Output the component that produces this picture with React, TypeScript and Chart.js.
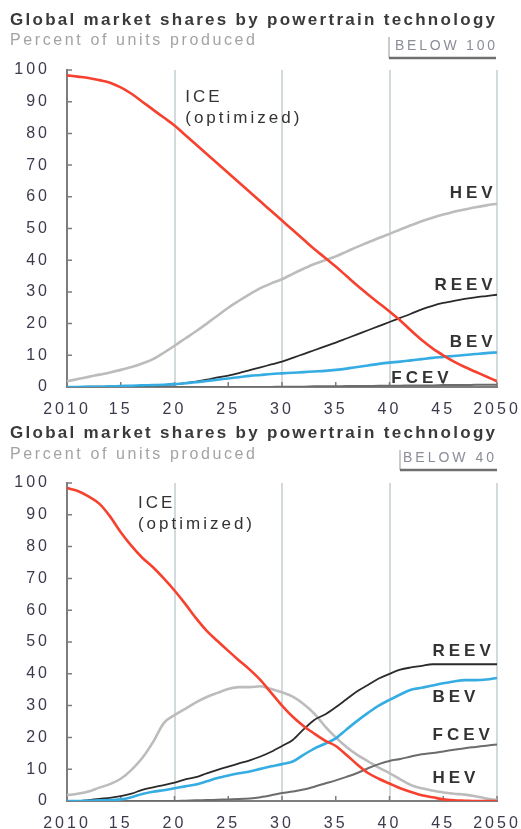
import { useEffect, useRef } from "react";
import { Chart, registerables } from "chart.js";

Chart.register(...registerables);

// ---------- data ----------
const YEARS = [
  2010, 2011, 2012, 2013, 2014, 2015, 2016, 2017, 2018, 2019,
  2020, 2021, 2022, 2023, 2024, 2025, 2026, 2027, 2028, 2029,
  2030, 2031, 2032, 2033, 2034, 2035, 2036, 2037, 2038, 2039,
  2040, 2041, 2042, 2043, 2044, 2045, 2046, 2047, 2048, 2049,
  2050,
];

// Scenario "BELOW 100"
const TOP_ICE = [
  98.3, 97.9, 97.5, 96.8, 96.0, 94.5, 92.5, 90.0, 87.5, 85.0,
  82.5, 79.5, 76.5, 73.5, 70.5, 67.5, 64.5, 61.5, 58.5, 55.5,
  52.5, 49.5, 46.5, 43.5, 40.8, 38.0, 35.0, 32.0, 29.2, 26.5,
  23.8, 21.0, 17.8, 14.8, 12.2, 10.0, 8.0, 6.3, 4.8, 3.3,
  1.8,
];
const TOP_HEV = [
  1.8, 2.5, 3.2, 3.9, 4.6, 5.4, 6.3, 7.4, 8.8, 10.8,
  13.0, 15.3, 17.6, 20.0, 22.5, 25.0, 27.2, 29.3, 31.2, 32.7,
  34.0, 35.7, 37.3, 38.8, 40.0, 41.2, 42.7, 44.2, 45.6, 47.0,
  48.3, 49.7, 51.0, 52.3, 53.4, 54.4, 55.3, 56.0, 56.7, 57.3,
  57.8,
];
const TOP_REEV = [
  0, 0, 0.1, 0.1, 0.2, 0.2, 0.3, 0.4, 0.5, 0.6,
  0.8, 1.2, 1.7, 2.3, 3.0, 3.6, 4.4, 5.3, 6.2, 7.1,
  8.0, 9.2, 10.4, 11.6, 12.8, 14.0, 15.3, 16.6, 17.9, 19.2,
  20.5, 21.8, 23.1, 24.5, 25.6, 26.5, 27.2, 27.8, 28.3, 28.7,
  29.1,
];
const TOP_BEV = [
  0, 0, 0.1, 0.1, 0.2, 0.3, 0.4, 0.5, 0.6, 0.7,
  0.9, 1.2, 1.5, 1.9, 2.3, 2.7, 3.1, 3.5, 3.8, 4.1,
  4.3, 4.5, 4.7, 4.9, 5.1, 5.4, 5.8, 6.3, 6.8, 7.3,
  7.7, 8.0, 8.4, 8.8, 9.2, 9.5, 9.8, 10.1, 10.4, 10.7,
  10.9,
];
const TOP_FCEV = [
  0, 0, 0, 0, 0, 0, 0, 0, 0, 0,
  0, 0, 0, 0, 0, 0, 0, 0, 0, 0,
  0.1, 0.1, 0.1, 0.2, 0.2, 0.2, 0.3, 0.3, 0.3, 0.4,
  0.4, 0.4, 0.5, 0.5, 0.5, 0.6, 0.6, 0.6, 0.7, 0.7,
  0.7,
];

// Scenario "BELOW 40"
const BOT_ICE = [
  98.4, 97.5, 95.8, 93.5, 89.5, 84.5, 80.2, 76.5, 73.5, 70.0,
  66.2, 62.0, 57.5, 53.5, 50.3, 47.2, 44.2, 41.3, 38.0, 34.0,
  30.0, 26.5, 23.6, 21.2, 19.0, 17.3, 14.5, 11.5, 8.8, 7.0,
  5.5, 4.0, 2.8, 1.8, 1.2, 0.5, 0.2, 0.1, 0, 0,
  0,
];
const BOT_HEV = [
  1.8, 2.3, 3.0, 4.2, 5.3, 7.0, 9.8, 13.5, 18.5, 24.5,
  27.0, 29.0, 31.0, 32.7, 34.0, 35.2, 35.8, 35.8, 36.1, 35.2,
  34.2, 32.8, 30.5, 27.5, 23.5, 20.0, 17.0, 14.5, 12.5, 10.5,
  8.8, 6.8, 5.0, 4.0, 3.3, 2.7, 2.3, 2.0, 1.5, 0.8,
  0.3,
];
const BOT_REEV = [
  0, 0, 0.3, 0.7, 1.0, 1.5, 2.3, 3.5, 4.3, 5.0,
  5.8, 6.8, 7.5, 8.7, 9.8, 10.8, 11.8, 12.8, 14.0, 15.5,
  17.3, 19.2, 22.5, 25.5, 27.2, 29.5, 32.0, 34.5, 36.5, 38.5,
  40.0, 41.3, 42.0, 42.5, 43.0, 43.0, 43.0, 43.0, 43.0, 43.0,
  43.0,
];
const BOT_BEV = [
  0, 0, 0.1, 0.2, 0.3, 0.5, 1.2, 2.2, 2.9, 3.4,
  4.0, 4.6, 5.2, 6.2, 7.2, 8.0, 8.7, 9.3, 10.1, 10.9,
  11.6, 12.4, 14.5, 16.5, 18.0, 19.7, 22.5, 25.2, 27.7, 30.0,
  31.8, 33.5, 35.0, 35.6, 36.3, 37.0, 37.6, 38.0, 38.0, 38.2,
  38.7,
];
const BOT_FCEV = [
  0, 0, 0, 0, 0, 0, 0, 0, 0, 0,
  0, 0.1, 0.2, 0.3, 0.4, 0.5, 0.6, 0.8, 1.2, 1.8,
  2.5, 3.0, 3.6, 4.5, 5.5, 6.5, 7.6, 8.8, 10.3, 11.6,
  12.6, 13.2, 14.0, 14.7, 15.1, 15.6, 16.1, 16.6, 17.0, 17.4,
  17.8,
];

const TITLE = "Global market shares by powertrain technology";
const SUBTITLE = "Percent of units produced";

// ---------- styles ----------
const FONT = "'Liberation Sans', Arial, Helvetica, sans-serif";
const RED = "#f7412f";
const BLUE = "#35ace2";
const LIGHT = "#bcbcbc";
const DARK = "#2a2a2a";
const MID = "#6c6c6c";
const AXIS = "#7e7e7e";
const GRID = "#d3dadd";
const TICK_COLOR = "#3c3a4c";
const TEXT = "#333333";

type Series = { name: string; values: number[]; color: string; width: number };
type Label = { text: string; year: number; value: number; align: "left" | "right"; bold: boolean };
type Badge = {
  text: string; textLeft: number; textWidth: number; textY: number;
  boxLeft: number; boxRight: number; boxTop: number; boxBottom: number;
};
type Spec = {
  height: number; areaTop: number; titleY: number; subtitleY: number;
  badge: Badge; series: Series[]; labels: Label[];
};

const TOP_SPEC: Spec = {
  height: 414,
  areaTop: 70,
  titleY: 20,
  subtitleY: 41,
  badge: { text: "BELOW 100", textLeft: 395, textWidth: 100, textY: 46, boxLeft: 389, boxRight: 496, boxTop: 37, boxBottom: 58 },
  series: [
    { name: "ICE (optimized)", values: TOP_ICE, color: RED, width: 2.6 },
    { name: "BEV", values: TOP_BEV, color: BLUE, width: 2.6 },
    { name: "REEV", values: TOP_REEV, color: DARK, width: 1.8 },
    { name: "FCEV", values: TOP_FCEV, color: MID, width: 2 },
    { name: "HEV", values: TOP_HEV, color: LIGHT, width: 2.6 },
  ],
  labels: [
    { text: "ICE", year: 2021.0, value: 91.5, align: "left", bold: false },
    { text: "(optimized)", year: 2021.0, value: 84.9, align: "left", bold: false },
    { text: "HEV", year: 2049.6, value: 61.2, align: "right", bold: true },
    { text: "REEV", year: 2049.6, value: 32.2, align: "right", bold: true },
    { text: "BEV", year: 2049.6, value: 14.2, align: "right", bold: true },
    { text: "FCEV", year: 2045.5, value: 2.8, align: "right", bold: true },
  ],
};

const BOTTOM_SPEC: Spec = {
  height: 415,
  areaTop: 69,
  titleY: 19,
  subtitleY: 41,
  badge: { text: "BELOW 40", textLeft: 403, textWidth: 91, textY: 44, boxLeft: 400, boxRight: 497, boxTop: 36, boxBottom: 56 },
  series: [
    { name: "ICE (optimized)", values: BOT_ICE, color: RED, width: 2.6 },
    { name: "BEV", values: BOT_BEV, color: BLUE, width: 2.6 },
    { name: "REEV", values: BOT_REEV, color: DARK, width: 1.8 },
    { name: "FCEV", values: BOT_FCEV, color: MID, width: 2 },
    { name: "HEV", values: BOT_HEV, color: LIGHT, width: 2.6 },
  ],
  labels: [
    { text: "ICE", year: 2016.6, value: 93.7, align: "left", bold: false },
    { text: "(optimized)", year: 2016.6, value: 87.1, align: "left", bold: false },
    { text: "REEV", year: 2044, value: 47.2, align: "left", bold: true },
    { text: "BEV", year: 2044, value: 32.7, align: "left", bold: true },
    { text: "FCEV", year: 2044, value: 20.8, align: "left", bold: true },
    { text: "HEV", year: 2044, value: 7.2, align: "left", bold: true },
  ],
};

// ---------- drawing helpers ----------
function spacedText(ctx: CanvasRenderingContext2D, text: string, x: number, y: number, spacing: number, align: "left" | "right") {
  (ctx as any).letterSpacing = "0px";
  const base = ctx.measureText(text).width;
  const w = base + spacing * (text.length - 1);
  const left = align === "right" ? x - w : x;
  (ctx as any).letterSpacing = spacing + "px";
  ctx.textAlign = "left";
  ctx.fillText(text, left, y);
  (ctx as any).letterSpacing = "0px";
}

function fitText(ctx: CanvasRenderingContext2D, text: string, x: number, y: number, width: number) {
  (ctx as any).letterSpacing = "0px";
  const base = ctx.measureText(text).width;
  const spacing = (width - base) / (text.length - 1);
  spacedText(ctx, text, x, y, spacing, "left");
}

function makeDecor(spec: Spec) {
  return {
    id: "decor",
    beforeDraw(chart: any) {
      // wider tracking for the axis tick labels, as in the reference
      (chart.ctx as any).letterSpacing = "3px";
    },
    beforeDatasetsDraw(chart: any) {
      const ctx: CanvasRenderingContext2D = chart.ctx;
      (ctx as any).letterSpacing = "0px";
      const { left, bottom } = chart.chartArea;
      const xs = chart.scales.x;
      const ys = chart.scales.y;
      ctx.save();
      ctx.strokeStyle = AXIS;
      ctx.lineWidth = 1.5;
      ctx.beginPath();
      for (const t of ys.ticks) {
        const y = ys.getPixelForValue(t.value);
        ctx.moveTo(left, y);
        ctx.lineTo(left + 5, y);
      }
      for (const t of xs.ticks) {
        const x = xs.getPixelForValue(t.value);
        ctx.moveTo(x, bottom);
        ctx.lineTo(x, bottom - 5);
      }
      ctx.stroke();
      ctx.restore();
    },
    afterDraw(chart: any) {
      const ctx: CanvasRenderingContext2D = chart.ctx;
      const xs = chart.scales.x;
      const ys = chart.scales.y;
      ctx.save();
      ctx.textBaseline = "middle";

      // title + subtitle
      ctx.fillStyle = "#3a3a3a";
      ctx.font = `bold 17px ${FONT}`;
      fitText(ctx, TITLE, 10, spec.titleY, 485);
      ctx.fillStyle = "#a3a3a3";
      ctx.font = `16px ${FONT}`;
      fitText(ctx, SUBTITLE, 10, spec.subtitleY, 245);

      // badge
      const b = spec.badge;
      ctx.fillStyle = "#8b8d98";
      ctx.font = `14px ${FONT}`;
      fitText(ctx, b.text, b.textLeft, b.textY, b.textWidth);
      ctx.lineWidth = 2;
      ctx.strokeStyle = "#cbcbcb";
      ctx.beginPath();
      ctx.moveTo(b.boxLeft, b.boxTop);
      ctx.lineTo(b.boxLeft, b.boxBottom);
      ctx.stroke();
      ctx.strokeStyle = "#6f6f6f";
      ctx.lineWidth = 2.5;
      ctx.beginPath();
      ctx.moveTo(b.boxLeft, b.boxBottom);
      ctx.lineTo(b.boxRight, b.boxBottom);
      ctx.stroke();

      // series labels
      ctx.fillStyle = TEXT;
      for (const l of spec.labels) {
        ctx.font = `${l.bold ? "bold " : ""}17px ${FONT}`;
        const x = xs.getPixelForValue(l.year);
        const y = ys.getPixelForValue(l.value);
        spacedText(ctx, l.text, x, y, l.bold ? 4 : 3, l.align);
      }
      ctx.restore();
    },
  };
}

function buildConfig(spec: Spec): any {
  return {
    type: "line",
    data: {
      datasets: spec.series.map((s) => ({
        label: s.name,
        data: YEARS.map((x, i) => ({ x, y: s.values[i] })),
        borderColor: s.color,
        backgroundColor: s.color,
        borderWidth: s.width,
        pointRadius: 0,
        cubicInterpolationMode: "monotone",
        fill: false,
      })),
    },
    options: {
      animation: false,
      responsive: false,
      maintainAspectRatio: false,
      events: [],
      layout: { padding: { top: spec.areaTop, right: 24, bottom: 0, left: 0 } },
      plugins: {
        legend: { display: false },
        tooltip: { enabled: false },
        title: { display: false },
      },
      scales: {
        x: {
          type: "linear",
          min: 2010,
          max: 2050,
          afterFit: (s: any) => {
            s.height = spec.height - 387;
            s.paddingLeft = 0;
            s.paddingRight = 0;
          },
          ticks: {
            stepSize: 5,
            autoSkip: false,
            maxRotation: 0,
            padding: 13,
            color: TICK_COLOR,
            font: { family: FONT, size: 16 },
            callback: (v: number) => (v === 2010 || v === 2050 ? String(v) : String(v % 100)),
          },
          grid: {
            drawTicks: false,
            lineWidth: 2,
            color: (c: any) =>
              c.tick && c.tick.value % 10 === 0 && c.tick.value > 2010 ? GRID : "rgba(0,0,0,0)",
          },
          border: { display: true, color: AXIS, width: 2 },
        },
        y: {
          min: 0,
          max: 100,
          afterFit: (s: any) => {
            s.width = 67;
          },
          ticks: {
            stepSize: 10,
            padding: 17,
            color: TICK_COLOR,
            font: { family: FONT, size: 16 },
          },
          grid: { drawOnChartArea: false, drawTicks: false },
          border: { display: true, color: AXIS, width: 2 },
        },
      },
    },
    plugins: [makeDecor(spec)],
  };
}

function PanelChart({ spec }: { spec: Spec }) {
  const ref = useRef<HTMLCanvasElement>(null);
  useEffect(() => {
    const chart = new Chart(ref.current as HTMLCanvasElement, buildConfig(spec));
    return () => chart.destroy();
  }, [spec]);
  return (
    <canvas
      ref={ref}
      width={521}
      height={spec.height}
      style={{ display: "block", width: 521, height: spec.height }}
    />
  );
}

export default function App() {
  return (
    <div style={{ position: "absolute", left: 0, top: 0, width: 521, height: 829, background: "#ffffff" }}>
      <PanelChart spec={TOP_SPEC} />
      <PanelChart spec={BOTTOM_SPEC} />
    </div>
  );
}
